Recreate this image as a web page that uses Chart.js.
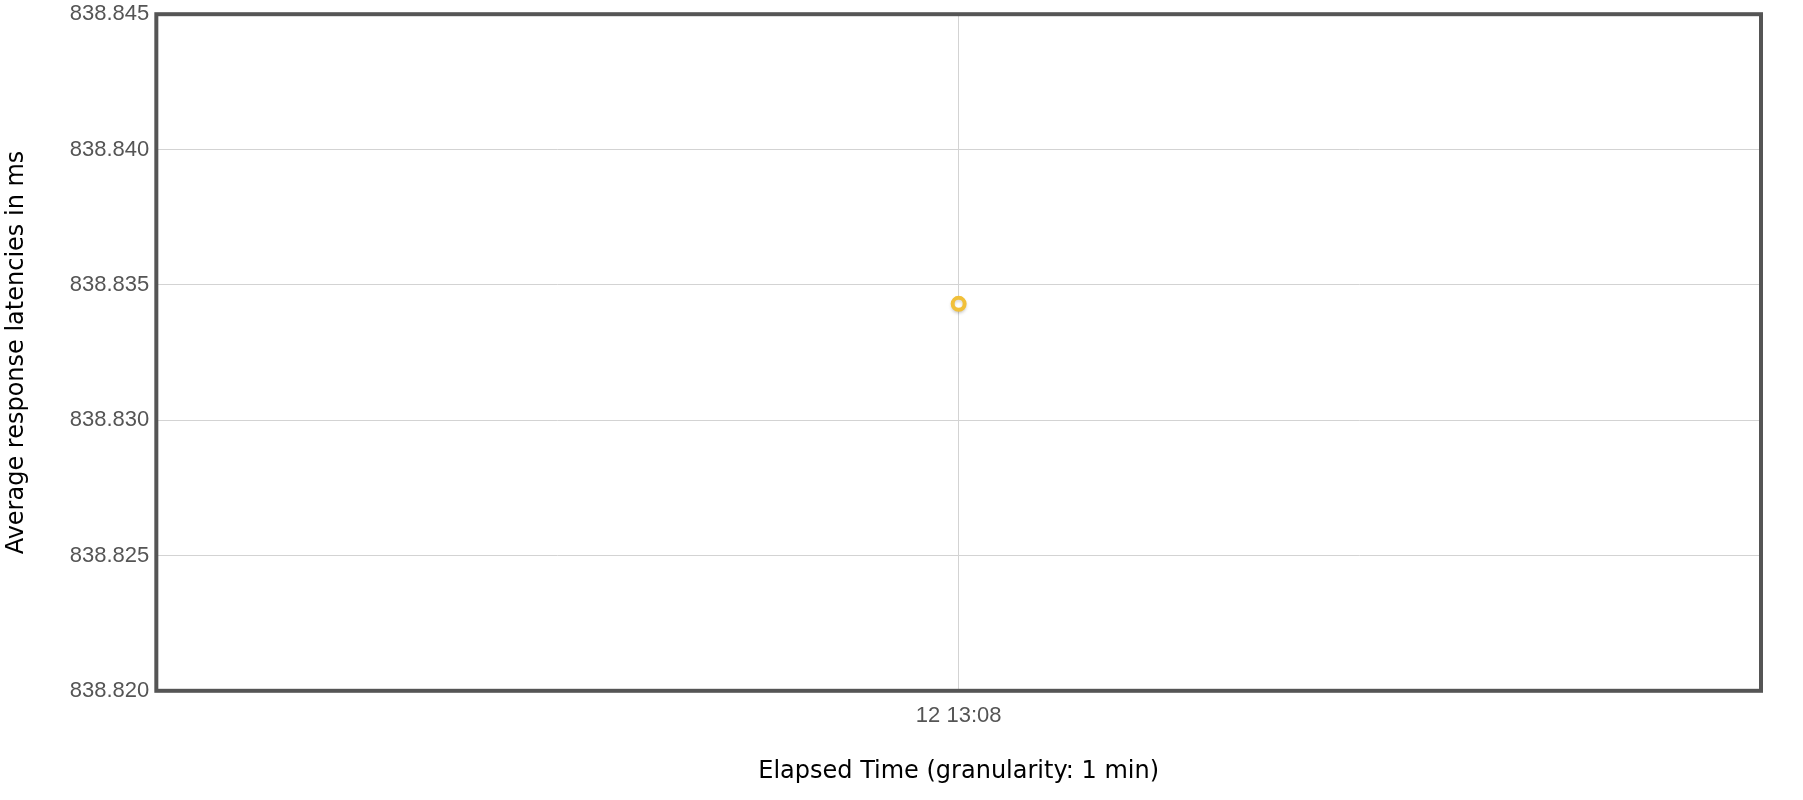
<!DOCTYPE html>
<html>
<head>
<meta charset="utf-8">
<script src="https://cdn.jsdelivr.net/npm/chart.js@4.4.1/dist/chart.umd.min.js"></script>
<style>
  html, body { margin: 0; padding: 0; background: #ffffff; }
  #wrap { width: 1803px; height: 800px; }
</style>
</head>
<body>
<div id="wrap"><canvas id="c" width="1803" height="800"></canvas></div>
<script>
const categories = ["12 13:08"];
const latencyValues = [838.8343];
const yTickMin = 838.820;
const yTickMax = 838.845;
const yTickStep = 0.005;
const xTitle = "Elapsed Time (granularity: 1 min)";
const yTitle = "Average response latencies in ms";

const frameBox = {
  id: 'frameBox',
  beforeDatasetsDraw(chart) {
    const a = chart.chartArea;
    const ctx = chart.ctx;
    ctx.save();
    ctx.strokeStyle = '#555555';
    ctx.lineWidth = 4;
    ctx.strokeRect(a.left, a.top, a.right - a.left, a.bottom - a.top);
    ctx.restore();
  },
  beforeDatasetDraw(chart) {
    const ctx = chart.ctx;
    ctx.save();
    ctx.shadowColor = 'rgba(0,0,0,0.15)';
    ctx.shadowBlur = 3;
    ctx.shadowOffsetY = 2;
  },
  afterDatasetDraw(chart) {
    chart.ctx.restore();
  }
};

new Chart(document.getElementById('c'), {
  type: 'line',
  data: {
    labels: categories,
    datasets: [{
      label: 'Average response latencies',
      data: latencyValues,
      borderColor: '#f1c03a',
      backgroundColor: '#ffffff',
      pointBackgroundColor: '#ffffff',
      pointBorderColor: '#f1c03a',
      pointRadius: 6,
      pointBorderWidth: 4,
      showLine: false
    }]
  },
  options: {
    responsive: false,
    devicePixelRatio: 1,
    animation: false,
    layout: { padding: { top: 0, right: 42, bottom: 14, left: 2 } },
    plugins: {
      legend: { display: false },
      tooltip: { enabled: false }
    },
    scales: {
      x: {
        type: 'category',
        offset: true,
        border: { display: false },
        grid: { color: '#d3d3d3', lineWidth: 1, offset: false, drawTicks: true, tickLength: 8, tickColor: 'rgba(0,0,0,0)' },
        ticks: {
          color: '#555555',
          padding: 4,
          font: { family: '"Liberation Sans", Arial, sans-serif', size: 22 }
        },
        title: {
          display: true,
          text: xTitle,
          color: '#000000',
          padding: { top: 24, bottom: 0 },
          font: { family: '"DejaVu Sans", sans-serif', size: 24 }
        }
      },
      y: {
        min: yTickMin,
        max: yTickMax,
        border: { display: false },
        grid: { color: '#d3d3d3', lineWidth: 1, drawTicks: true, tickLength: 6, tickColor: 'rgba(0,0,0,0)' },
        ticks: {
          stepSize: yTickStep,
          color: '#555555',
          padding: 1,
          font: { family: '"Liberation Sans", Arial, sans-serif', size: 22 },
          callback: (v) => Number(v).toFixed(3)
        },
        title: {
          display: true,
          text: yTitle,
          color: '#000000',
          padding: { top: 0, bottom: 38 },
          font: { family: '"DejaVu Sans", sans-serif', size: 24 }
        }
      }
    }
  },
  plugins: [frameBox]
});
</script>
</body>
</html>
